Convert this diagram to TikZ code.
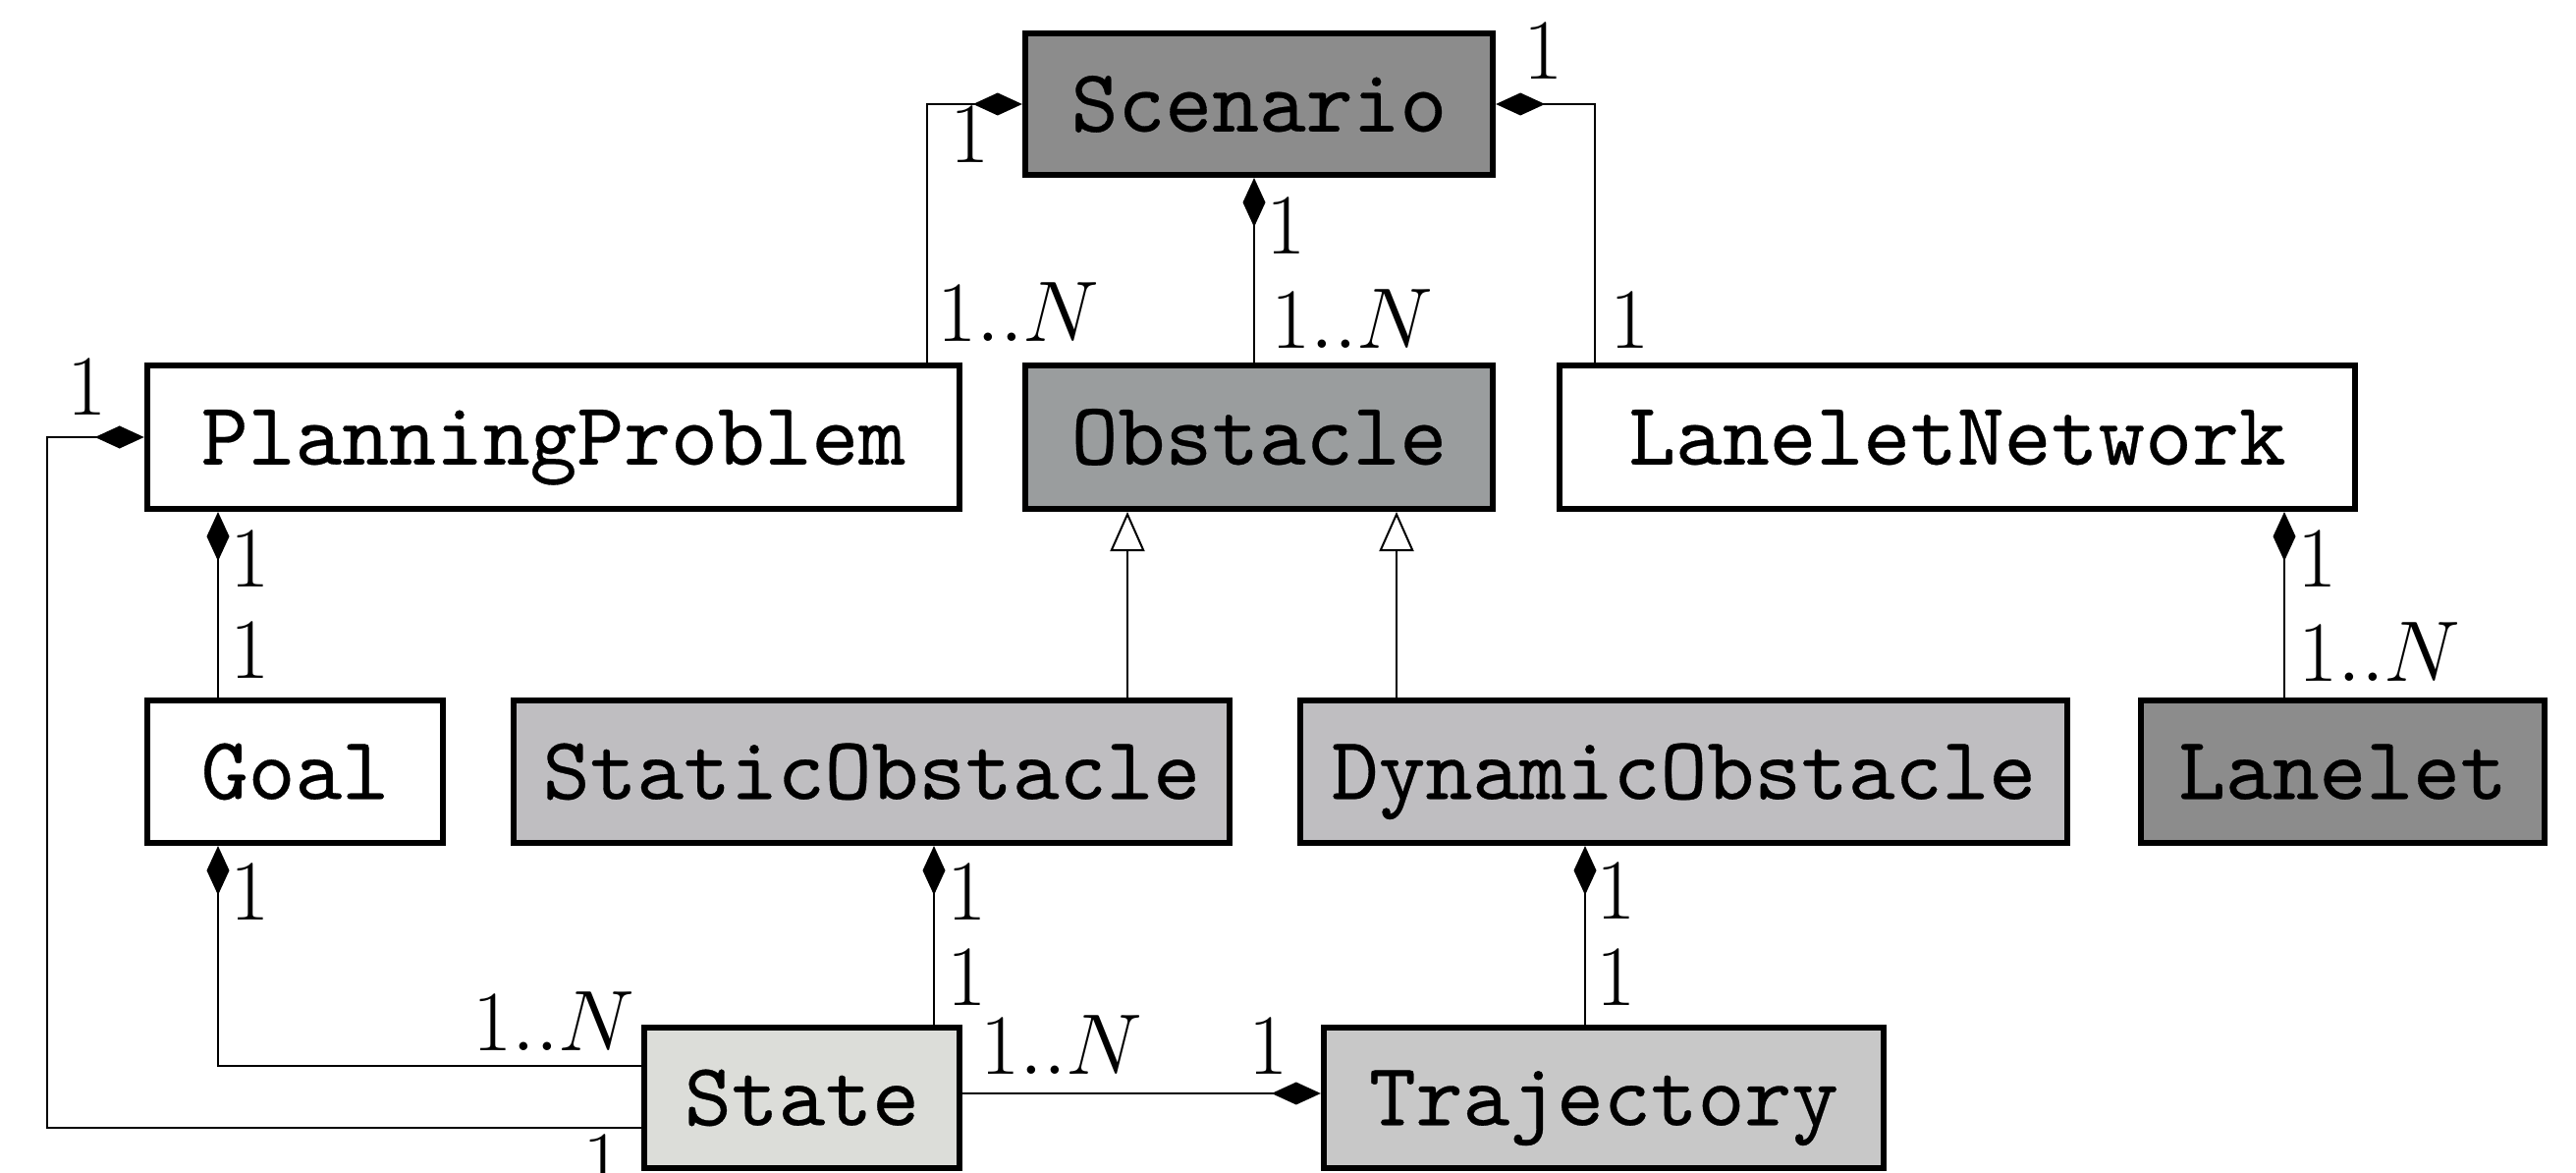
\documentclass[tikz,border=0pt]{standalone}
\usepackage{fontspec}
\usetikzlibrary{arrows.meta}

% typewriter face of the class names, a touch heavier than the default
\newfontfamily\classfont{lmmono10-regular.otf}[FakeBold=0.35]

\definecolor{scenariogray}{RGB}{140,140,140}
\definecolor{obstaclegray}{RGB}{154,157,158}
\definecolor{subobstacle}{RGB}{191,190,193}
\definecolor{lanegray}{RGB}{140,140,140}
\definecolor{stategray}{RGB}{220,221,217}
\definecolor{trajgray}{RGB}{200,200,200}

\tikzset{
  classbox/.style={draw=black, line width=0.06cm, rectangle, inner sep=0pt,
    font=\classfont\fontsize{25.9}{31}\selectfont, fill=white,
    text height=15.8pt, text depth=0pt},
  link/.style={line width=0.02cm},
  comp/.style={link, -{Diamond[length=0.5cm,width=0.23cm]}},
  inherit/.style={link, -{Triangle[open,length=0.4cm,width=0.35cm]}},
  mult/.style={inner sep=0pt, font=\fontsize{25.9}{31}\selectfont}
}

\begin{document}
\begin{tikzpicture}[x=0.01cm, y=-0.01cm]
\clip (0,0) rectangle (2623,1194);

% classes
\node[classbox, fill=scenariogray, minimum width=4.76cm, minimum height=1.44cm] (Scenario) at (1282,106) {Scenario};
\node[classbox, minimum width=8.27cm, minimum height=1.46cm] (PP) at (563.5,445) {PlanningProblem};
\node[classbox, fill=obstaclegray, minimum width=4.76cm, minimum height=1.46cm] (Obstacle) at (1282,445) {Obstacle};
\node[classbox, minimum width=8.10cm, minimum height=1.46cm] (LN) at (1993,445) {LaneletNetwork};
\node[classbox, minimum width=3.01cm, minimum height=1.45cm] (Goal) at (300.5,785.5) {Goal};
\node[classbox, fill=subobstacle, minimum width=7.29cm, minimum height=1.45cm] (Static) at (887.5,785.5) {StaticObstacle};
\node[classbox, fill=subobstacle, minimum width=7.81cm, minimum height=1.45cm] (Dynamic) at (1714.5,785.5) {DynamicObstacle};
\node[classbox, fill=lanegray, minimum width=4.11cm, minimum height=1.45cm] (Lanelet) at (2385.5,785.5) {Lanelet};
\node[classbox, fill=stategray, minimum width=3.21cm, minimum height=1.43cm] (State) at (816.5,1117.5) {State};
\node[classbox, fill=trajgray, minimum width=5.70cm, minimum height=1.43cm] (Traj) at (1633,1117.5) {Trajectory};

% routing columns and rows of the connectors
\coordinate (xA) at (944,0);
\coordinate (xB) at (1624,0);
\coordinate (xC) at (1277,0);
\coordinate (xD) at (1148,0);
\coordinate (xE) at (1422,0);
\coordinate (xF) at (2326,0);
\coordinate (xG) at (222,0);
\coordinate (xI) at (48,0);
\coordinate (xK) at (951,0);
\coordinate (xL) at (1614,0);
\coordinate (yH) at (0,1148);
\coordinate (yJ) at (0,1085);
\coordinate (yM) at (0,1113);

% compositions and generalisations
\draw[comp] (PP.north -| xA) |- (Scenario.west);
\draw[comp] (LN.north -| xB) |- (Scenario.east);
\draw[comp] (Obstacle.north -| xC) -- (Scenario.south -| xC);
\draw[inherit] (Static.north -| xD) -- (Obstacle.south -| xD);
\draw[inherit] (Dynamic.north -| xE) -- (Obstacle.south -| xE);
\draw[comp] (Lanelet.north -| xF) -- (LN.south -| xF);
\draw[comp] (Goal.north -| xG) -- (PP.south -| xG);
\draw[comp] (State.west |- yH) -| (PP.west -| xI) -- (PP.west);
\draw[comp] (State.west |- yJ) -| (Goal.south -| xG);
\draw[comp] (State.north -| xK) -- (Static.south -| xK);
\draw[comp] (Traj.north -| xL) -- (Dynamic.south -| xL);
\draw[comp] (State.east |- yM) -- (Traj.west |- yM);

% multiplicities
\node[mult] (m1) at (988,137) {$1$};
\node[mult] (m2) at (1037,318) {$1..N$};
\node[mult] (m3) at (1310,230) {$1$};
\node[mult] (m4) at (1377,325) {$1..N$};
\node[mult] (m5) at (1572,52) {$1$};
\node[mult] (m6) at (1660,326) {$1$};
\node[mult] (m7) at (89,394) {$1$};
\node[mult] (m8) at (255,569) {$1$};
\node[mult] (m9) at (255,662) {$1$};
\node[mult] (m10) at (255,908) {$1$};
\node[mult] (m11) at (564,1040) {$1..N$};
\node[mult] (m12) at (614,1184) {$1$};
\node[mult] (m13) at (985,908) {$1$};
\node[mult] (m14) at (985,995) {$1$};
\node[mult] (m15) at (1646,907) {$1$};
\node[mult] (m16) at (1646,995) {$1$};
\node[mult] (m17) at (1081,1064) {$1..N$};
\node[mult] (m18) at (1292,1065) {$1$};
\node[mult] (m19) at (2360,569) {$1$};
\node[mult] (m20) at (2423,664) {$1..N$};
\end{tikzpicture}
\end{document}
